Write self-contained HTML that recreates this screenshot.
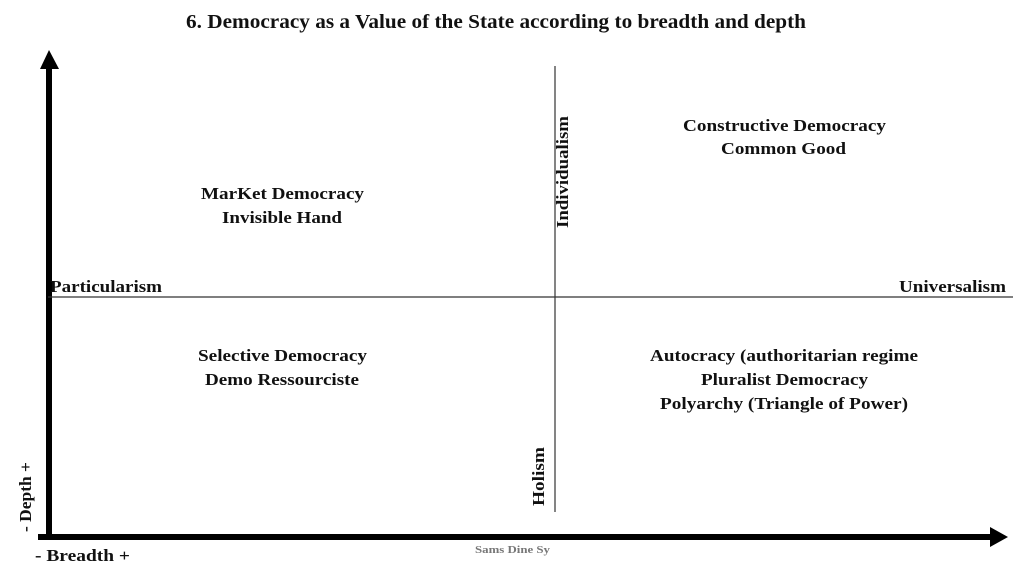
<!DOCTYPE html>
<html><head><meta charset="utf-8"><style>
html,body{margin:0;padding:0;background:#fff}
svg{display:block}
text{font-family:"Liberation Serif",serif;font-weight:bold;fill:#111}
</style></head><body>
<svg width="1024" height="576" viewBox="0 0 1024 576" xmlns="http://www.w3.org/2000/svg">
<text x="186" y="28" font-size="20" textLength="620" lengthAdjust="spacingAndGlyphs">6. Democracy as a Value of the State according to breadth and depth</text>
<rect x="46" y="66" width="6" height="474" fill="#000"/>
<polygon points="49,50 40,69 59,69" fill="#000"/>
<rect x="38" y="534" width="956" height="6" fill="#000"/>
<polygon points="1008,537 990,527 990,547" fill="#000"/>
<line x1="555" y1="66" x2="555" y2="512" stroke="#333" stroke-width="1.2"/>
<line x1="48" y1="297" x2="1013" y2="297" stroke="#333" stroke-width="1.2"/>
<g font-size="17" lengthAdjust="spacingAndGlyphs">
<text x="50" y="292" textLength="112" lengthAdjust="spacingAndGlyphs">Particularism</text>
<text x="899" y="292" textLength="107" lengthAdjust="spacingAndGlyphs">Universalism</text>
<text x="201" y="199" textLength="163" lengthAdjust="spacingAndGlyphs">MarKet Democracy</text>
<text x="222" y="223" textLength="120" lengthAdjust="spacingAndGlyphs">Invisible Hand</text>
<text x="683" y="131" textLength="203" lengthAdjust="spacingAndGlyphs">Constructive Democracy</text>
<text x="721" y="154" textLength="125" lengthAdjust="spacingAndGlyphs">Common Good</text>
<text x="198" y="361" textLength="169" lengthAdjust="spacingAndGlyphs">Selective Democracy</text>
<text x="205" y="385" textLength="154" lengthAdjust="spacingAndGlyphs">Demo Ressourciste</text>
<text x="650" y="361" textLength="268" lengthAdjust="spacingAndGlyphs">Autocracy (authoritarian regime</text>
<text x="701" y="385" textLength="167" lengthAdjust="spacingAndGlyphs">Pluralist Democracy</text>
<text x="660" y="409" textLength="248" lengthAdjust="spacingAndGlyphs">Polyarchy (Triangle of Power)</text>
<text transform="translate(568,228) rotate(-90)" textLength="112" lengthAdjust="spacingAndGlyphs">Individualism</text>
<text transform="translate(544,506) rotate(-90)" textLength="59" lengthAdjust="spacingAndGlyphs">Holism</text>
<text transform="translate(31,532) rotate(-90)" textLength="70" lengthAdjust="spacingAndGlyphs">- Depth +</text>
<text x="35" y="561" textLength="95" lengthAdjust="spacingAndGlyphs">- Breadth +</text>
</g>
<text x="475" y="553" font-size="10" textLength="75" lengthAdjust="spacingAndGlyphs" style="fill:#777">Sams Dine Sy</text>
</svg>
</body></html>
